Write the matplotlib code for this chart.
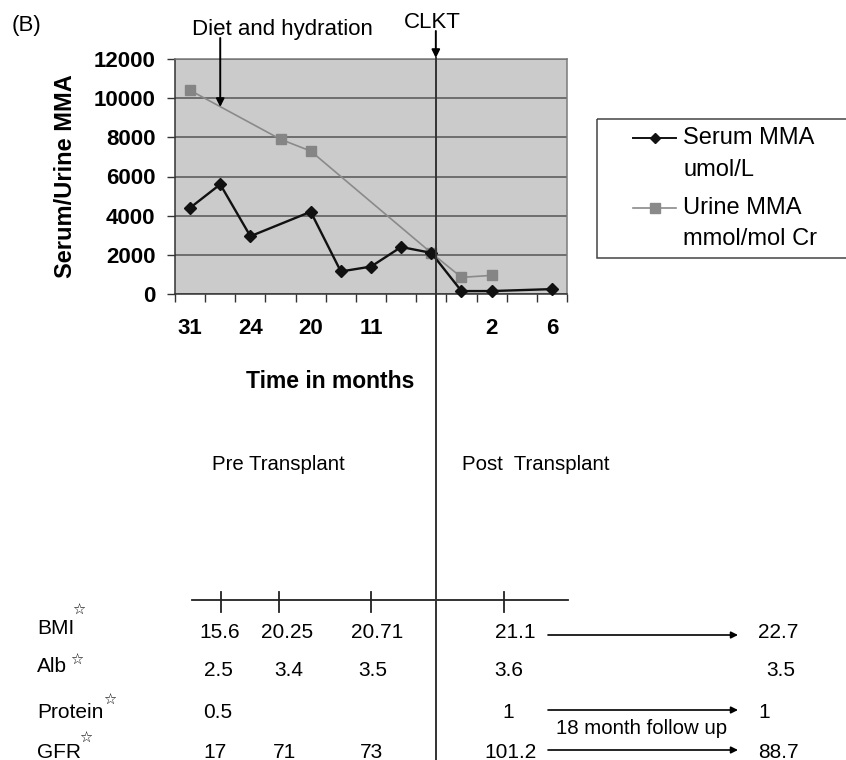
import numpy as np
import matplotlib
matplotlib.use("Agg")
import matplotlib.pyplot as plt
from matplotlib.lines import Line2D
from matplotlib.patches import Rectangle
import matplotlib.transforms as mtransforms

plt.rcParams['font.family'] = ['Liberation Sans', 'DejaVu Sans']

# ---------------- data ----------------
time_labels = ["31", "", "24", "", "20", "", "11", "", "", "", "2", "", "6"]
serum_mma = [4400, 5600, 2950, np.nan, 4200, 1150, 1400, 2400, 2100, 150, 150, np.nan, 250]
urine_mma = [10400, np.nan, np.nan, 7900, 7300, np.nan, np.nan, np.nan, 2100, 850, 950, np.nan, np.nan]
y_ticks = [0, 2000, 4000, 6000, 8000, 10000, 12000]
series_names = ["Serum MMA\numol/L", "Urine MMA\nmmol/mol Cr"]

table_rows = ["BMI", "Alb", "Protein", "GFR"]
bmi_values = ["15.6", "20.25", "20.71", "21.1", "22.7"]
alb_values = ["2.5", "3.4", "3.5", "3.6", "3.5"]
protein_values = ["0.5", "", "", "1", "1"]
gfr_values = ["17", "71", "73", "101.2", "88.7"]
table_values = [bmi_values, alb_values, protein_values, gfr_values]

# ---------------- figure ----------------
W, H = 846, 760
fig = plt.figure(figsize=(W / 100, H / 100), dpi=100)
# pixel transform (x from left, y from top)
T = mtransforms.Affine2D().scale(1 / W, -1 / H).translate(0, 1) + fig.transFigure

ax_l, ax_r, ax_t, ax_b = 175, 567, 59, 294
ax = fig.add_axes([ax_l / W, 1 - ax_b / H, (ax_r - ax_l) / W, (ax_b - ax_t) / H])
ax.set_facecolor('#cbcbcb')

x = np.arange(len(time_labels))
s = np.array(serum_mma, dtype=float)
u = np.array(urine_mma, dtype=float)
ms_ = ~np.isnan(s)
mu_ = ~np.isnan(u)
ax.plot(x[mu_], u[mu_], color='#8a8a8a', lw=1.2, marker='s', ms=7,
        mfc='#858585', mec='#858585', zorder=3, clip_on=False)
ax.plot(x[ms_], s[ms_], color='#111111', lw=1.7, marker='D', ms=6.5,
        mfc='#111111', mec='#111111', zorder=4, clip_on=False)

ax.set_xlim(-0.5, len(time_labels) - 0.5)
ax.set_ylim(0, 12000)
ax.set_yticks(y_ticks)
ax.set_yticklabels([str(v) for v in y_ticks], fontsize=16, fontweight='bold')
ax.set_xticks(x)
ax.set_xticklabels(time_labels, fontsize=16, fontweight='bold')
ax.set_xticks(np.arange(-0.5, len(time_labels)), minor=True)
ax.tick_params(axis='x', which='major', length=0, pad=17)
ax.tick_params(axis='x', which='minor', length=6, width=1, color='#333333', direction='out')
ax.tick_params(axis='y', which='major', length=6, width=1, color='#333333', direction='out', pad=8)
ax.grid(axis='y', color='#555555', lw=1.1)
ax.set_axisbelow(True)
for sp in ['top', 'right']:
    ax.spines[sp].set_color('#7a7a7a')
    ax.spines[sp].set_linewidth(1.1)
for sp in ['left', 'bottom']:
    ax.spines[sp].set_color('#333333')
    ax.spines[sp].set_linewidth(1.1)

# axis titles
fig.text(65 / W, 1 - 176 / H, "Serum/Urine MMA", rotation=90, ha='center', va='center',
         fontsize=17, fontweight='bold')
fig.text(330 / W, 1 - 382 / H, "Time in months", ha='center', va='center',
         fontsize=16.5, fontweight='bold')

# panel label and annotations
fig.text(12 / W, 1 - 26 / H, "(B)", ha='left', va='center', fontsize=16)
fig.text(282 / W, 1 - 30 / H, "Diet and hydration", ha='center', va='center', fontsize=16)
fig.text(432 / W, 1 - 23 / H, "CLKT", ha='center', va='center', fontsize=16)

BT = mtransforms.blended_transform_factory(ax.transData, T)
ax.annotate("", xy=(1, 9550), xycoords='data', xytext=(1, 38), textcoords=BT,
            arrowprops=dict(arrowstyle='-|>', color='black', lw=1.4, mutation_scale=12,
                            shrinkA=0, shrinkB=0), annotation_clip=False)
clkt_x = 8.15
ax.annotate("", xy=(clkt_x, 58), xycoords=BT, xytext=(clkt_x, 31), textcoords=BT,
            arrowprops=dict(arrowstyle='-|>', color='black', lw=1.4, mutation_scale=12,
                            shrinkA=0, shrinkB=0), annotation_clip=False)
fig.add_artist(Line2D([clkt_x, clkt_x], [58, H], transform=BT, color='#333333', lw=1.4,
                      zorder=5))

# legend (manual)
fig.add_artist(Rectangle((597, 119), 300, 139, transform=T, fill=False,
                         edgecolor='#444444', lw=1.1))
leg_rows = [(138, 170), (208, 239)]
leg_styles = [dict(color='#111111', marker='D', ms=5.5, lw=1.4),
              dict(color='#8a8a8a', marker='s', ms=6.5, lw=1.2)]
for name, (y1, y2), st in zip(series_names, leg_rows, leg_styles):
    fig.add_artist(Line2D([633, 676], [y1, y1], transform=T, color=st['color'], lw=st['lw']))
    fig.add_artist(Line2D([654.5], [y1], transform=T, color=st['color'], marker=st['marker'],
                          ms=st['ms'], mfc=st['color'], mec=st['color'], lw=0))
    l1, l2 = name.split("\n")
    fig.text(683 / W, 1 - y1 / H, l1, ha='left', va='center', fontsize=17)
    fig.text(683 / W, 1 - y2 / H, l2, ha='left', va='center', fontsize=17)

# transplant labels
fig.text(212 / W, 1 - 465 / H, "Pre Transplant", ha='left', va='center', fontsize=14.7)
fig.text(462 / W, 1 - 465 / H, "Post  Transplant", ha='left', va='center', fontsize=14.7)

# bottom table timeline
fig.add_artist(Line2D([192, 568], [600, 600], transform=T, color='#222222', lw=1.3))
for tx in [221, 279, 371, 504]:
    fig.add_artist(Line2D([tx, tx], [592, 612], transform=T, color='#222222', lw=1.3))

row_y = [633, 670, 712, 752]
label_y = [628, 667, 713, 752]
star_pos = [(79, 610), (77, 660), (110, 700), (86, 738)]
col_x = [[220, 287, 377, 515, 778],
         [218, 289, 373, 509, 781],
         [218, 287, 375, 508, 764],
         [215, 285, 371, 510, 778]]
for r, name in enumerate(table_rows):
    fig.text(37 / W, 1 - label_y[r] / H, name, ha='left', va='center', fontsize=15)
    fig.text(star_pos[r][0] / W, 1 - star_pos[r][1] / H, "☆", ha='center', va='center',
             fontsize=10.5, fontweight='bold', family='DejaVu Sans')
    for c, val in enumerate(table_values[r]):
        if val:
            fig.text(col_x[r][c] / W, 1 - row_y[r] / H, val, ha='center', va='center',
                     fontsize=15)

for ay in [635, 710, 750]:
    ax.annotate("", xy=(738, ay), xycoords=T, xytext=(548, ay), textcoords=T,
                arrowprops=dict(arrowstyle='-|>', color='black', lw=1.2, mutation_scale=10,
                                shrinkA=0, shrinkB=0), annotation_clip=False)
fig.text(642 / W, 1 - 728 / H, "18 month follow up", ha='center', va='center', fontsize=14.7)

fig.savefig("out.png", dpi=100)
